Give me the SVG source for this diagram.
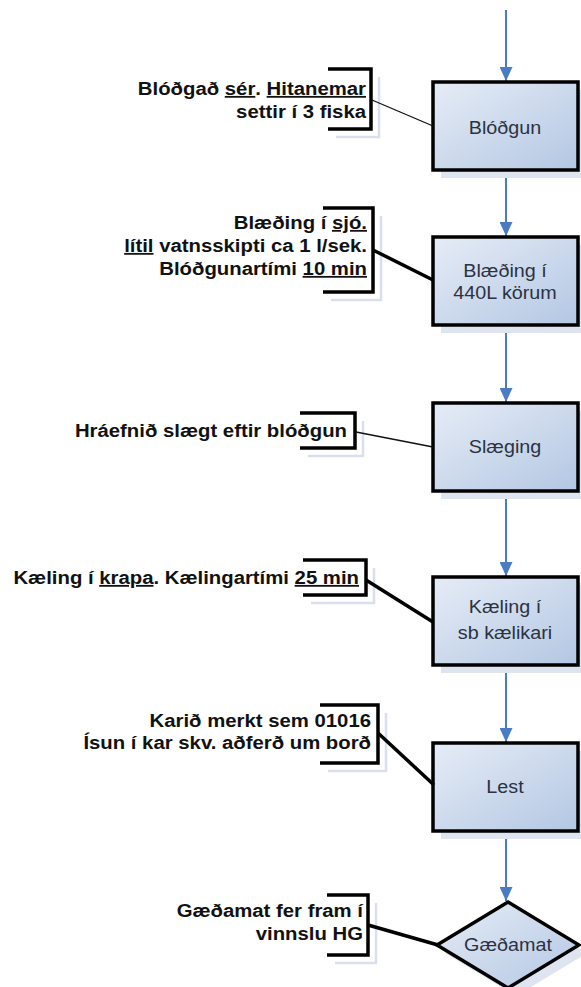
<svg xmlns="http://www.w3.org/2000/svg" width="581" height="987" viewBox="0 0 581 987">
  <style>
    .box { stroke: #000; stroke-width: 3.5; fill: url(#fillGrad); }
    .shadow { fill: #dfe4f1; stroke: none; }
    .flow { stroke: #4a7cc4; stroke-width: 2; fill: none; marker-end: url(#arrow); }
    .lbl { font-family: "Liberation Sans", Arial, sans-serif; font-size: 17.5px; fill: #2b3242; text-anchor: middle; }
    .note { font-family: "Liberation Sans", Arial, sans-serif; font-size: 18px; font-weight: bold; fill: #111; text-anchor: end; }
    .u { text-decoration: underline; }
    .brk { stroke: #000; stroke-width: 3.5; fill: none; }
    .brk-sh { stroke: #dadfef; stroke-width: 2.5; fill: none; }
    .lead-thin { stroke: #111; stroke-width: 1.3; fill: none; }
    .lead-thick { stroke: #000; stroke-width: 3.5; fill: none; }
  </style>
  <defs>
    <linearGradient id="fillGrad" x1="0" y1="0" x2="1" y2="1">
      <stop offset="0" stop-color="#e6ecf6"/>
      <stop offset="1" stop-color="#b3c7e3"/>
    </linearGradient>
    <marker id="arrow" viewBox="0 0 14 13" refX="14" refY="6.5" markerWidth="14" markerHeight="13" markerUnits="userSpaceOnUse" orient="auto">
      <path d="M0,0 L14,6.5 L0,13 Z" fill="#4a7cc4"/>
    </marker>
  </defs>

  <rect width="581" height="987" fill="#fff"/>

  <!-- flow arrows between the process steps -->
  <g id="connectors">
    <line class="flow" x1="506" y1="10" x2="506" y2="81"/>
    <line class="flow" x1="506" y1="171" x2="506" y2="236"/>
    <line class="flow" x1="506" y1="326" x2="506" y2="402"/>
    <line class="flow" x1="506" y1="491" x2="506" y2="576"/>
    <line class="flow" x1="506" y1="665" x2="506" y2="742"/>
    <line class="flow" x1="506" y1="831" x2="506" y2="901"/>
  </g>

  <!-- process steps -->
  <g id="blodgun">
    <rect class="shadow" x="441" y="90" width="145" height="88"/>
    <rect class="box" x="433" y="82" width="145" height="88"/>
    <text class="lbl" transform="translate(505,134) scale(1.13,1)">Blóðgun</text>
  </g>
  <g id="blaeding">
    <rect class="shadow" x="441" y="245" width="145" height="88"/>
    <rect class="box" x="433" y="237" width="145" height="88"/>
    <text class="lbl" transform="translate(505,0) scale(1.13,1)"><tspan x="0" y="277">Blæðing í</tspan><tspan x="0" y="299">440L körum</tspan></text>
  </g>
  <g id="slaeging">
    <rect class="shadow" x="441" y="411" width="145" height="88"/>
    <rect class="box" x="433" y="403" width="145" height="88"/>
    <text class="lbl" transform="translate(505,453) scale(1.13,1)">Slæging</text>
  </g>
  <g id="kaeling">
    <rect class="shadow" x="441" y="585" width="145" height="88"/>
    <rect class="box" x="433" y="577" width="145" height="88"/>
    <text class="lbl" transform="translate(505,0) scale(1.13,1)"><tspan x="0" y="613">Kæling í</tspan><tspan x="0" y="639">sb kælikari</tspan></text>
  </g>
  <g id="lest">
    <rect class="shadow" x="441" y="751" width="145" height="88"/>
    <rect class="box" x="433" y="743" width="145" height="88"/>
    <text class="lbl" transform="translate(505,793) scale(1.13,1)">Lest</text>
  </g>
  <g id="gaedamat">
    <path class="shadow" d="M516,910 L587,953 L516,996 L445,953 Z"/>
    <path class="box" d="M508,902 L579,945 L508,988 L437,945 Z" stroke-width="3"/>
    <text class="lbl" transform="translate(508,951) scale(1.13,1)">Gæðamat</text>
  </g>

  <!-- annotations with bracket and leader -->
  <g id="note-blodgun">
    <path class="brk-sh" d="M336,137 H379 V77"/>
    <path class="brk" d="M328,69 H371 V129 H328"/>
    <line class="lead-thin" x1="372" y1="100" x2="433" y2="126"/>
    <text class="note" transform="translate(366,0) scale(1.13,1)"><tspan x="0" y="95">Blóðgað <tspan class="u">sér</tspan>. <tspan class="u">Hitanemar</tspan></tspan><tspan x="0" y="118">settir í 3 fiska</tspan></text>
  </g>
  <g id="note-blaeding">
    <path class="brk-sh" d="M331,300 H381 V216"/>
    <path class="brk" d="M323,208 H373 V292 H323"/>
    <line class="lead-thick" x1="373" y1="250" x2="433" y2="280"/>
    <text class="note" transform="translate(367,0) scale(1.13,1)"><tspan x="0" y="229">Blæðing í <tspan class="u">sjó.</tspan></tspan><tspan x="0" y="252"><tspan class="u">lítil</tspan> vatnsskipti ca 1 l/sek.</tspan><tspan x="0" y="275">Blóðgunartími <tspan class="u">10 min</tspan></tspan></text>
  </g>
  <g id="note-slaeging">
    <path class="brk-sh" d="M308,456 H363 V421"/>
    <path class="brk" d="M300,413 H355 V448 H300"/>
    <line class="lead-thin" x1="356" y1="432" x2="433" y2="447"/>
    <text class="note" transform="translate(347,437) scale(1.13,1)">Hráefnið slægt eftir blóðgun</text>
  </g>
  <g id="note-kaeling">
    <path class="brk-sh" d="M311,603 H374 V568"/>
    <path class="brk" d="M303,560 H366 V595 H303"/>
    <line class="lead-thick" x1="366" y1="580" x2="433" y2="622"/>
    <text class="note" transform="translate(359,584) scale(1.13,1)">Kæling í <tspan class="u">krapa</tspan>. Kælingartími <tspan class="u">25 min</tspan></text>
  </g>
  <g id="note-lest">
    <path class="brk-sh" d="M328,771 H386 V713"/>
    <path class="brk" d="M320,705 H378 V763 H320"/>
    <line class="lead-thick" x1="378" y1="733" x2="434" y2="785"/>
    <text class="note" transform="translate(371,0) scale(1.13,1)"><tspan x="0" y="727">Karið merkt sem 01016</tspan><tspan x="0" y="749">Ísun í kar skv. aðferð um borð</tspan></text>
  </g>
  <g id="note-gaedamat">
    <path class="brk-sh" d="M335,963 H376 V903"/>
    <path class="brk" d="M327,895 H368 V955 H327"/>
    <line class="lead-thick" x1="368" y1="925" x2="438" y2="945"/>
    <text class="note" transform="translate(363,0) scale(1.13,1)"><tspan x="0" y="917">Gæðamat fer fram í</tspan><tspan x="0" y="940">vinnslu HG</tspan></text>
  </g>
</svg>
